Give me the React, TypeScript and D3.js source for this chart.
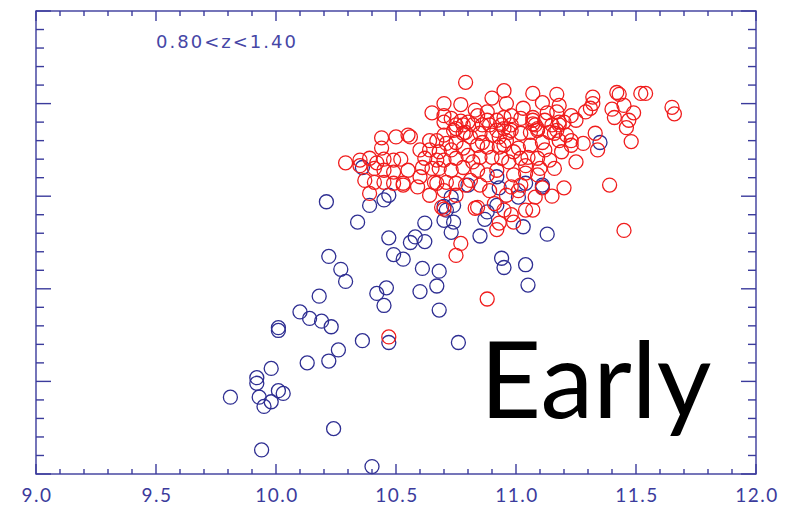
import React from "react";
import * as d3 from "d3";

// chart size and plot box
const width = 809;
const height = 507;
const margin = { left: 36, right: 53, top: 11, bottom: 33 };

// axis ranges
const xDomain: [number, number] = [9.0, 12.0];
const yDomain: [number, number] = [0, 5];
const xTickLabels = ["9.0", "9.5", "10.0", "10.5", "11.0", "11.5", "12.0"];

const redshiftLabel = "0.80<z<1.40";
const panelLabel = "Early";

// blue galaxies [mass, y]
const blueGalaxies: [number, number][] = [
  [10.21, 2.94], [10.34, 2.72], [10.39, 2.9], [10.45, 2.96], [10.47, 3.01],
  [10.36, 3.31], [10.47, 2.55], [10.22, 2.35], [10.27, 2.21], [10.29, 2.08],
  [10.49, 2.37], [10.53, 2.32], [10.58, 2.56], [10.56, 2.5], [10.62, 2.51],
  [10.62, 2.71], [10.61, 2.22], [10.68, 2.19], [10.6, 1.97], [10.67, 2.03],
  [10.46, 2.01], [10.42, 1.95], [10.45, 1.82], [10.68, 1.77], [10.18, 1.92],
  [10.1, 1.75], [10.14, 1.68], [10.19, 1.65], [10.23, 1.59], [10.01, 1.58],
  [10.01, 1.55], [10.36, 1.44], [10.47, 1.42], [10.76, 1.42], [10.26, 1.34],
  [10.22, 1.22], [10.13, 1.2], [9.98, 1.14], [9.92, 1.04], [9.92, 0.98],
  [9.81, 0.83], [9.93, 0.83], [9.95, 0.73], [9.98, 0.78], [10.01, 0.9],
  [10.03, 0.87], [10.24, 0.49], [9.94, 0.26], [10.4, 0.08], [10.7, 2.89],
  [10.73, 2.99], [10.74, 2.9], [10.71, 2.85], [10.7, 2.74], [10.74, 2.72],
  [10.73, 2.61], [10.8, 3.12], [10.85, 2.57], [10.87, 2.75], [10.88, 2.83],
  [10.92, 2.9], [10.93, 3.09], [10.92, 3.21], [11.01, 2.99], [11.03, 2.67],
  [11.13, 2.59], [10.94, 2.33], [10.95, 2.23], [11.04, 2.26], [11.05, 2.04],
  [11.11, 3.12], [11.04, 3.14], [11.11, 3.1], [11.35, 3.58],
];

// red galaxies [mass, y]
const redGalaxies: [number, number][] = [
  [10.29, 3.36], [10.35, 3.39], [10.35, 3.33], [10.39, 3.41], [10.42, 3.36],
  [10.45, 3.4], [10.49, 3.39], [10.52, 3.4], [10.55, 3.28], [10.41, 3.3],
  [10.45, 3.28], [10.49, 3.26], [10.37, 3.17], [10.41, 3.15], [10.45, 3.15],
  [10.49, 3.14], [10.53, 3.14], [10.39, 3.03], [10.44, 3.63], [10.44, 3.52],
  [10.5, 3.64], [10.55, 3.66], [10.56, 3.64], [10.47, 1.48],
  [10.79, 4.23], [10.7, 4.0], [10.77, 3.99], [10.65, 3.9], [10.7, 3.87],
  [10.7, 3.8], [10.77, 3.81], [10.9, 4.06], [10.95, 4.14], [10.96, 4.0],
  [10.84, 3.87], [10.88, 3.82], [10.82, 3.77], [10.86, 3.77], [10.89, 3.77],
  [10.92, 3.82], [10.95, 3.85], [10.95, 3.73], [10.75, 3.77], [10.78, 3.77],
  [10.74, 3.71], [10.79, 3.69], [10.81, 3.64], [10.85, 3.68], [10.9, 3.66],
  [10.93, 3.64], [10.97, 3.69], [10.7, 3.66], [10.67, 3.6], [10.64, 3.6],
  [10.71, 3.57], [10.75, 3.58], [10.6, 3.5], [10.64, 3.5], [10.68, 3.48],
  [10.73, 3.5], [10.78, 3.52], [10.84, 3.55], [10.88, 3.53], [10.93, 3.53],
  [10.95, 3.55], [10.62, 3.41], [10.67, 3.39], [10.7, 3.39], [10.75, 3.41],
  [10.8, 3.44], [10.82, 3.37], [10.85, 3.42], [10.9, 3.42], [10.94, 3.41],
  [10.61, 3.31], [10.65, 3.3], [10.68, 3.3], [10.73, 3.28], [10.78, 3.31],
  [10.84, 3.28], [10.88, 3.23], [10.92, 3.28], [10.6, 3.21], [10.66, 3.15],
  [10.71, 3.15], [10.75, 3.14], [10.64, 3.01], [10.84, 2.88], [10.96, 3.01],
  [10.95, 2.85], [10.59, 3.1], [10.53, 3.12], [10.67, 3.14], [10.79, 3.12],
  [10.69, 2.88], [10.7, 2.86], [10.83, 2.87], [10.91, 2.92], [11.01, 3.06],
  [10.98, 2.8], [10.93, 2.71], [10.92, 2.64], [10.99, 2.72], [11.04, 2.85],
  [11.07, 2.85], [11.15, 3.0], [11.2, 3.09], [11.11, 3.09], [10.77, 2.49],
  [10.75, 2.36], [10.88, 1.89],
  [11.07, 4.11], [11.17, 4.1], [11.32, 4.07], [11.42, 4.12], [11.43, 4.1],
  [11.52, 4.11], [11.54, 4.11], [11.65, 3.96], [11.66, 3.89], [11.03, 3.95],
  [11.11, 4.01], [11.18, 3.98], [11.32, 4.0], [11.31, 3.95], [11.29, 3.91],
  [11.4, 3.94], [11.45, 3.98], [11.49, 3.9], [11.41, 3.85], [11.47, 3.82],
  [11.46, 3.74], [11.07, 3.85], [11.13, 3.9], [11.17, 3.91], [11.23, 3.87],
  [11.25, 3.82], [10.98, 3.77], [11.07, 3.82], [11.07, 3.78], [11.18, 3.77],
  [11.2, 3.8], [11.16, 3.68], [10.98, 3.71], [11.02, 3.68], [11.06, 3.69],
  [11.09, 3.71], [11.14, 3.69], [11.21, 3.66], [11.23, 3.6], [11.28, 3.57],
  [11.33, 3.68], [11.34, 3.5], [10.96, 3.6], [11.01, 3.52], [11.06, 3.55],
  [11.11, 3.58], [11.18, 3.6], [11.23, 3.55], [10.97, 3.37], [11.02, 3.41],
  [11.05, 3.42], [11.09, 3.41], [11.14, 3.39], [11.25, 3.37], [10.99, 3.23],
  [11.04, 3.25], [11.09, 3.23], [10.98, 3.1], [11.08, 2.99], [11.39, 3.12],
  [11.45, 2.63], [11.48, 3.59],
  [10.75, 3.73], [10.78, 3.68], [10.8, 3.8], [10.92, 3.71], [10.94, 3.77],
  [11.08, 3.77], [11.09, 3.73], [11.15, 3.77], [11.17, 3.71], [11.18, 3.8],
  [11.12, 3.82], [11.02, 3.84], [10.98, 3.87], [10.88, 3.91], [10.83, 3.93],
  [10.73, 3.84], [10.86, 3.58], [10.99, 3.48], [11.12, 3.5], [11.19, 3.48],
  [11.04, 3.33], [11.1, 3.3], [11.16, 3.3], [10.81, 3.17], [10.85, 3.12],
  [10.89, 3.06], [11.02, 3.12], [10.75, 3.01], [10.7, 3.06],
];

const axisColor = "#3b3b9c";
const blueColor = "#2e2e92";
const redColor = "#f01c1c";
const font = "Lato, 'Open Sans', sans-serif";

export default function App() {
  const x = d3
    .scaleLinear()
    .domain(xDomain)
    .range([margin.left, width - margin.right]);
  const y = d3
    .scaleLinear()
    .domain(yDomain)
    .range([height - margin.bottom, margin.top]);

  const [x0, x1] = x.range();
  const [y0, y1] = y.range();

  // minor ticks every 0.1 in x, every 0.2 in y
  const xMinor = d3.range(0, 31).map((i) => xDomain[0] + i * 0.1);
  const yMinor = d3.range(0, 26).map((i) => yDomain[0] + i * 0.2);
  const isMajorX = (i: number) => i % 5 === 0;
  const isMajorY = (i: number) => i % 5 === 0;

  return (
    <svg
      width={width}
      height={height}
      style={{ position: "absolute", left: 0, top: 0, background: "#fff" }}
    >
      {/* points */}
      <g fill="none" strokeWidth={1.3}>
        {blueGalaxies.map((d, i) => (
          <circle key={"b" + i} cx={x(d[0])} cy={y(d[1])} r={7} stroke={blueColor} />
        ))}
        {redGalaxies.map((d, i) => (
          <circle key={"r" + i} cx={x(d[0])} cy={y(d[1])} r={7} stroke={redColor} />
        ))}
      </g>

      {/* frame and ticks */}
      <g stroke={axisColor} strokeWidth={1.4} fill="none">
        <rect x={x0} y={y1} width={x1 - x0} height={y0 - y1} />
        {xMinor.map((v, i) => {
          const len = isMajorX(i) ? 10 : 5;
          return (
            <g key={"xt" + i}>
              <line x1={x(v)} x2={x(v)} y1={y0} y2={y0 - len} />
              <line x1={x(v)} x2={x(v)} y1={y1} y2={y1 + len} />
            </g>
          );
        })}
        {yMinor.map((v, i) => {
          const len = isMajorY(i) ? 15 : 8;
          return (
            <g key={"yt" + i}>
              <line x1={x0} x2={x0 + len} y1={y(v)} y2={y(v)} />
              <line x1={x1} x2={x1 - len} y1={y(v)} y2={y(v)} />
            </g>
          );
        })}
      </g>

      {/* x tick labels */}
      <g
        fill={axisColor}
        fontFamily={font}
        fontSize={19}
        letterSpacing={1.5}
        textAnchor="middle"
      >
        {xTickLabels.map((t) => (
          <text key={t} x={x(+t) + 1} y={y0 + 28}>
            {t}
          </text>
        ))}
      </g>

      <text
        x={x(9.5)}
        y={y(4.6)}
        fill="#4646a6"
        fontFamily="'DejaVu Sans', sans-serif"
        fontSize={18}
        textLength={140}
      >
        {redshiftLabel}
      </text>

      <text x={x(10.85)} y={y(0.6)} fill="#000" fontFamily={font} fontSize={106}>
        {panelLabel}
      </text>
    </svg>
  );
}
